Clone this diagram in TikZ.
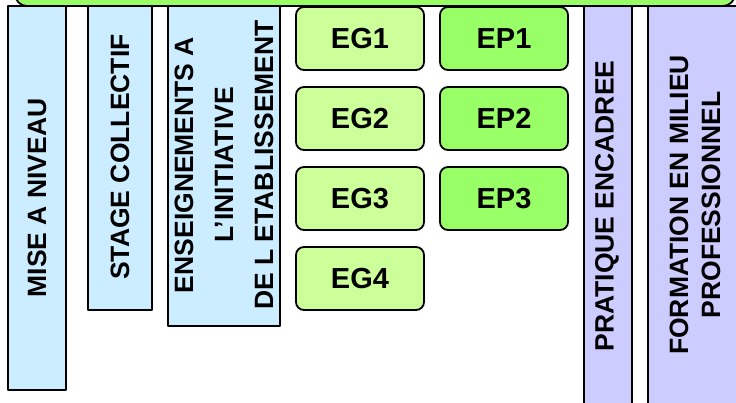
\documentclass[tikz,border=0pt]{standalone}
\usepackage{fontspec}
\setmainfont{Liberation Sans}
\definecolor{colblue}{HTML}{CCECFF}
\definecolor{collilac}{HTML}{CCCCFF}
\definecolor{egGreen}{HTML}{CCFF99}
\definecolor{epGreen}{HTML}{99FF66}
\tikzset{
  colbox/.style={draw=black,line width=1.8pt},
  greenbox/.style={draw=black,line width=1.8pt,rounded corners=8pt,minimum width=128pt,minimum height=63pt,inner sep=0pt,font=\fontsize{29}{32}\selectfont\bfseries},
  vlabel/.style={rotate=90,align=center,inner sep=0pt,font=\fontsize{26.5}{40}\selectfont\bfseries}
}
\begin{document}
\begin{tikzpicture}[line cap=round,line join=round,x=1pt,y=-1pt]
                \useasboundingbox (0,0) rectangle (736,402);
                \clip (0,0) rectangle (736,402);
                % bandeau du haut
                \draw [colbox,fill=epGreen,rounded corners=12pt] (15,-30) rectangle (735,6);
                % colonnes bleues
                \draw [colbox,fill=colblue] (8,6) rectangle (66,390);
                \draw [colbox,fill=colblue] (88,6) rectangle (152,310);
                \draw [colbox,fill=colblue] (168,6) rectangle (280,326);
                \node[vlabel] (mise) at (37,198) {MISE A NIVEAU};
                \node[vlabel] (stage) at (120,157) {STAGE COLLECTIF};
                \node[vlabel] (initiative) at (224,165) {ENSEIGNEMENTS A\\L’INITIATIVE\\DE L ETABLISSEMENT};
                % enseignements generaux
                \node[greenbox,fill=egGreen] (eg1) at (360,38.5) {EG1};
                \node[greenbox,fill=egGreen] (eg2) at (360,118.5) {EG2};
                \node[greenbox,fill=egGreen] (eg3) at (360,198.5) {EG3};
                \node[greenbox,fill=egGreen] (eg4) at (360,278.5) {EG4};
                % enseignements professionnels
                \node[greenbox,fill=epGreen] (ep1) at (504,38.5) {EP1};
                \node[greenbox,fill=epGreen] (ep2) at (504,118.5) {EP2};
                \node[greenbox,fill=epGreen] (ep3) at (504,198.5) {EP3};
                % colonnes violettes
                \draw [colbox,fill=collilac] (584,6) rectangle (632,420);
                \draw [colbox,fill=collilac] (648,6) rectangle (750,420);
                \node[vlabel] (pratique) at (607,206) {PRATIQUE ENCADREE};
                \node[vlabel,font=\fontsize{26.5}{32}\selectfont\bfseries] (milieu) at (695,205) {FORMATION EN MILIEU\\PROFESSIONNEL};
            \end{tikzpicture}
\end{document}
